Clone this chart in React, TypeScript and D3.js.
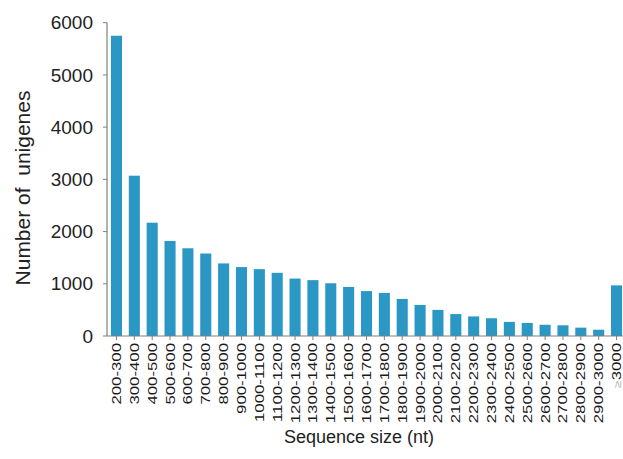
import React, { useEffect, useRef } from 'react'
import * as d3 from 'd3'

// sequence size bins
const categories = [
  '200-300', '300-400', '400-500', '500-600', '600-700', '700-800', '800-900',
  '900-1000', '1000-1100', '1100-1200', '1200-1300', '1300-1400', '1400-1500',
  '1500-1600', '1600-1700', '1700-1800', '1800-1900', '1900-2000', '2000-2100',
  '2100-2200', '2200-2300', '2300-2400', '2400-2500', '2500-2600', '2600-2700',
  '2700-2800', '2800-2900', '2900-3000', '≥3000',
]
const counts = [
  5750, 3070, 2170, 1820, 1680, 1580, 1390, 1320, 1280, 1210, 1100, 1070, 1010,
  940, 860, 825, 710, 595, 500, 420, 375, 340, 270, 250, 215, 205, 160, 120, 970,
]
const yTicks = [0, 1000, 2000, 3000, 4000, 5000, 6000]

const W = 623
const H = 459
const FONT = "'Liberation Sans', Arial, sans-serif"

export default function App() {
  const ref = useRef<SVGSVGElement>(null)

  useEffect(() => {
    const svg = d3.select(ref.current)
    svg.selectAll('*').remove()

    const x = d3.scaleBand().domain(categories).range([107, 626])
      .paddingInner(0.38).paddingOuter(0.22)
    const y = d3.scaleLinear().domain([0, 6000]).range([336, 22.7])

    // bars
    svg.append('g').selectAll('rect')
      .data(counts)
      .enter()
      .append('rect')
      .attr('x', (d, i) => x(categories[i]))
      .attr('y', d => y(d))
      .attr('width', x.bandwidth())
      .attr('height', d => y(0) - y(d))
      .attr('fill', '#2b97c4')

    // y axis
    const ya = svg.append('g')
    ya.append('line')
      .attr('x1', 107).attr('x2', 107)
      .attr('y1', y(6000)).attr('y2', y(0))
      .attr('stroke', '#808080').attr('stroke-width', 1.2)
    ya.selectAll('.tk').data(yTicks).enter().append('line')
      .attr('x1', 103).attr('x2', 107)
      .attr('y1', d => y(d)).attr('y2', d => y(d))
      .attr('stroke', '#808080')
    ya.selectAll('text').data(yTicks).enter().append('text')
      .attr('x', 93).attr('y', d => y(d))
      .attr('dy', '0.35em')
      .attr('text-anchor', 'end')
      .attr('font-family', FONT)
      .attr('font-size', 19)
      .attr('fill', '#222')
      .text(d => d)

    // x axis
    const xa = svg.append('g')
    xa.append('line')
      .attr('x1', 107).attr('x2', W)
      .attr('y1', y(0)).attr('y2', y(0))
      .attr('stroke', '#808080').attr('stroke-width', 1.2)
    xa.selectAll('.tk').data(categories).enter().append('line')
      .attr('x1', d => x(d) + x.bandwidth() / 2).attr('x2', d => x(d) + x.bandwidth() / 2)
      .attr('y1', y(0)).attr('y2', y(0) + 4)
      .attr('stroke', '#808080')
    const labels = xa.selectAll('text').data(categories).enter().append('text')
      .attr('transform', d => `translate(${x(d) + x.bandwidth() / 2 + 4.5},343) rotate(-90) scale(1.4,1)`)
      .attr('text-anchor', 'end')
      .attr('font-family', FONT)
      .attr('font-size', 12)
      .attr('fill', '#1a1a1a')
    labels.each(function (d) {
      const t = d3.select(this)
      if (d.startsWith('≥')) {
        t.append('tspan').attr('fill', '#aaa').attr('font-size', 10).text('≥')
        t.append('tspan').text(d.slice(1))
      } else {
        t.text(d)
      }
    })

    // titles
    svg.append('text')
      .attr('transform', 'translate(30,188) rotate(-90)')
      .attr('text-anchor', 'middle')
      .attr('font-family', FONT)
      .attr('font-size', 21)
      .attr('fill', '#222')
      .text('Number of\u00a0 unigenes')

    svg.append('text')
      .attr('x', 359).attr('y', 443)
      .attr('text-anchor', 'middle')
      .attr('font-family', FONT)
      .attr('font-size', 18)
      .attr('fill', '#222')
      .text('Sequence size (nt)')
  }, [])

  return (
    <svg ref={ref} width={W} height={H}
      style={{ position: 'absolute', left: 0, top: 0, background: '#fff' }} />
  )
}
